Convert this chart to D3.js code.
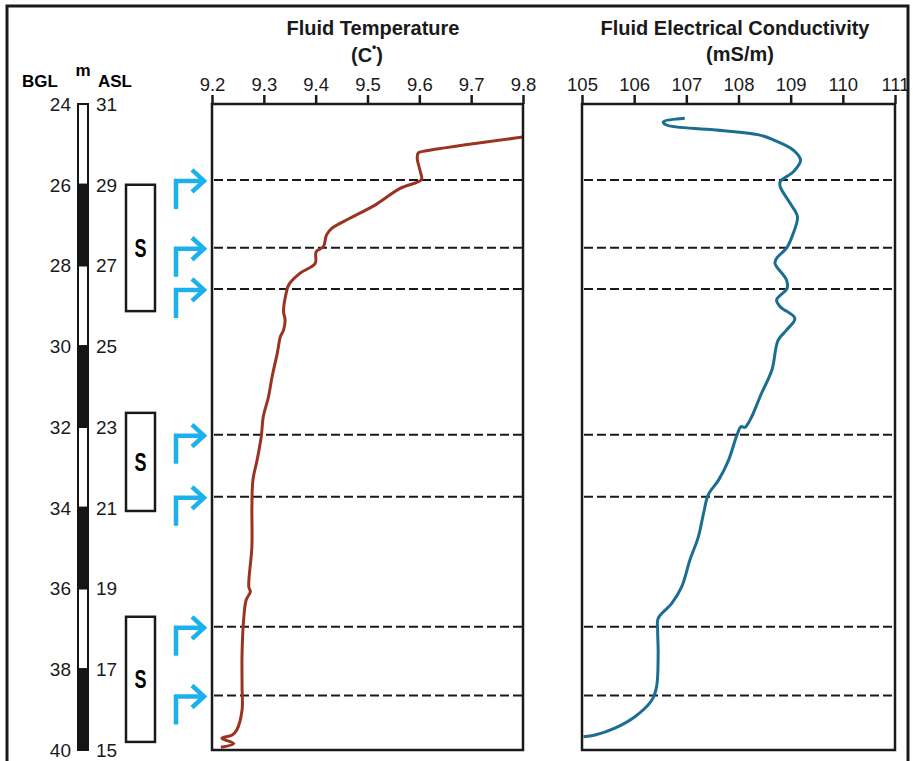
<!DOCTYPE html>
<html>
<head>
<meta charset="utf-8">
<script src="https://cdn.jsdelivr.net/npm/d3@7"></script>
<style>
  body { margin: 0; background: #fff; }
  svg { font-family: "Liberation Sans", Arial, sans-serif; }
</style>
</head>
<body>
<svg id="chart" width="913" height="761"></svg>
<script>
// depth ticks (m below ground level); ASL = 55 - BGL
var depthTicks = [24, 26, 28, 30, 32, 34, 36, 38, 40];
var aslTicks = [31, 29, 27, 25, 23, 21, 19, 17, 15];

// lithology column: [top, bottom, dark?]
var column = [[24, 26, 0], [26, 28, 1], [28, 30, 0], [30, 32, 1],
              [32, 34, 0], [34, 36, 1], [36, 38, 0], [38, 40, 1]];

// screened intervals
var screens = [[26.0, 29.13], [31.65, 34.08], [36.7, 39.8]];

// inflow zones (arrows + dashed lines)
var inflows = [25.88, 27.56, 28.58, 32.19, 33.73, 36.95, 38.65];

var tempTicks = [9.2, 9.3, 9.4, 9.5, 9.6, 9.7, 9.8];
var condTicks = [105, 106, 107, 108, 109, 110, 111];

// [depth, temperature C]
var tempProfile = [
  [24.82, 9.800], [25.16, 9.614], [25.21, 9.598], [25.35, 9.596], [25.68, 9.602],
  [25.87, 9.604], [26.09, 9.563], [26.53, 9.511], [26.83, 9.466], [27.08, 9.431],
  [27.24, 9.421], [27.53, 9.415], [27.66, 9.401], [27.95, 9.399], [28.19, 9.370],
  [28.48, 9.348], [28.69, 9.343], [29.14, 9.338], [29.35, 9.341], [29.60, 9.338],
  [29.76, 9.332], [30.17, 9.326], [30.75, 9.316], [31.25, 9.309], [31.74, 9.299],
  [32.24, 9.295], [32.82, 9.287], [33.31, 9.279], [33.97, 9.277], [34.96, 9.277],
  [35.96, 9.271], [36.08, 9.274], [36.28, 9.266], [36.78, 9.261], [37.61, 9.258],
  [38.43, 9.258], [39.01, 9.258], [39.50, 9.248], [39.63, 9.239], [39.71, 9.219],
  [39.84, 9.242], [39.93, 9.217]
];

// [depth, conductivity mS/m]
var condProfile = [
  [24.35, 106.97], [24.44, 106.56], [24.52, 106.62], [24.64, 107.52], [24.77, 108.41],
  [24.89, 108.67], [25.14, 109.05], [25.39, 109.19], [25.68, 109.05], [25.92, 108.80],
  [26.05, 108.80], [26.46, 108.99], [26.79, 109.13], [27.20, 109.05], [27.57, 108.92],
  [27.82, 108.73], [27.95, 108.70], [28.36, 108.92], [28.57, 108.93], [28.85, 108.73],
  [29.02, 108.80], [29.31, 109.08], [29.60, 108.92], [29.85, 108.76], [30.59, 108.64],
  [31.17, 108.44], [31.83, 108.22], [32.01, 108.12], [31.99, 108.05], [32.20, 107.97],
  [32.82, 107.81], [33.31, 107.62], [33.68, 107.42], [34.14, 107.33], [34.72, 107.23],
  [35.29, 107.07], [35.96, 106.91], [36.37, 106.72], [36.74, 106.46], [37.03, 106.45],
  [37.61, 106.46], [38.43, 106.43], [38.76, 106.34], [39.17, 106.02], [39.46, 105.63],
  [39.63, 105.25], [39.67, 105.03]
];

var svg = d3.select('#chart');

// outer frame
svg.append('rect')
    .attr('x', 7).attr('y', 6).attr('width', 901).attr('height', 760)
    .attr('fill', 'none').attr('stroke', '#1a1a1a').attr('stroke-width', 3);

var y = d3.scaleLinear().domain([24, 40]).range([104, 750]);

// depth column
svg.selectAll('rect.lith')
    .data(column)
  .enter().append('rect')
    .attr('class', 'lith')
    .attr('x', 78).attr('width', 10)
    .attr('y', function(d) { return y(d[0]); })
    .attr('height', function(d) { return y(d[1]) - y(d[0]); })
    .attr('fill', function(d) { return d[2] ? '#151515' : '#fff'; })
    .attr('stroke', '#151515').attr('stroke-width', 2);

svg.selectAll('text.bgl')
    .data(depthTicks)
  .enter().append('text')
    .attr('class', 'bgl')
    .attr('x', 71).attr('y', function(d) { return y(d); })
    .attr('dy', '0.36em').attr('text-anchor', 'end')
    .style('font-size', '19px').attr('fill', '#1a1a1a')
    .text(function(d) { return d; });

svg.selectAll('text.asl')
    .data(aslTicks)
  .enter().append('text')
    .attr('class', 'asl')
    .attr('x', 96).attr('y', function(d, i) { return y(depthTicks[i]); })
    .attr('dy', '0.36em')
    .style('font-size', '19px').attr('fill', '#1a1a1a')
    .text(function(d) { return d; });

svg.append('text').attr('x', 22).attr('y', 87)
    .style('font-size', '17px').style('font-weight', 'bold').text('BGL');
svg.append('text').attr('x', 83).attr('y', 76).attr('text-anchor', 'middle')
    .style('font-size', '17px').style('font-weight', 'bold').text('m');
svg.append('text').attr('x', 98).attr('y', 87)
    .style('font-size', '17px').style('font-weight', 'bold').text('ASL');

// screens
var scr = svg.selectAll('g.screen')
    .data(screens)
  .enter().append('g')
    .attr('class', 'screen');
scr.append('rect')
    .attr('x', 126).attr('width', 29)
    .attr('y', function(d) { return y(d[0]); })
    .attr('height', function(d) { return y(d[1]) - y(d[0]); })
    .attr('fill', '#fff').attr('stroke', '#1a1a1a').attr('stroke-width', 2.5);
scr.append('text')
    .attr('transform', function(d) {
      return 'translate(140.5,' + (y(d[0]) + y(d[1])) / 2 + ') scale(0.72,1)';
    })
    .attr('dy', '0.36em').attr('text-anchor', 'middle')
    .style('font-size', '25px').style('font-weight', 'bold')
    .text('S');

// inflow arrows
var arrows = svg.selectAll('g.arrow')
    .data(inflows)
  .enter().append('g')
    .attr('class', 'arrow')
    .attr('transform', function(d) { return 'translate(0,' + (y(d) + 1) + ')'; });
arrows.append('path')
    .attr('d', 'M176,28V0H203')
    .attr('fill', 'none').attr('stroke', '#1cb1ec').attr('stroke-width', 4.5);
arrows.append('path')
    .attr('d', 'M192,-11L204,0L192,11')
    .attr('fill', 'none').attr('stroke', '#1cb1ec').attr('stroke-width', 4.5);

function panel(x0, x1, domain, ticks, fmt, data, color) {
  var x = d3.scaleLinear().domain(domain).range([x0, x1]);
  var g = svg.append('g');

  g.selectAll('line.inflow')
      .data(inflows)
    .enter().append('line')
      .attr('x1', x0 + 2).attr('x2', x1)
      .attr('y1', function(d) { return y(d); })
      .attr('y2', function(d) { return y(d); })
      .attr('stroke', '#1a1a1a').attr('stroke-width', 2)
      .attr('stroke-dasharray', '9,4');

  g.append('path')
      .datum(data)
      .attr('fill', 'none').attr('stroke', color).attr('stroke-width', 3)
      .attr('stroke-linejoin', 'round')
      .attr('d', d3.line()
        .x(function(d) { return x(d[1]); })
        .y(function(d) { return y(d[0]); })
        .curve(d3.curveCatmullRom.alpha(0.5)));

  g.append('rect')
      .attr('x', x0).attr('y', y(24))
      .attr('width', x1 - x0).attr('height', y(40) - y(24))
      .attr('fill', 'none').attr('stroke', '#1a1a1a').attr('stroke-width', 2.5);

  var ax = g.append('g')
      .attr('transform', 'translate(0,' + y(24) + ')')
      .call(d3.axisTop(x).tickValues(ticks).tickFormat(fmt).tickSize(9).tickPadding(4));
  ax.select('.domain').remove();
  ax.selectAll('line').attr('stroke', '#1a1a1a').attr('stroke-width', 2.5);
  ax.selectAll('text')
      .style('font-size', '18.5px').style('font-family', '"Liberation Sans", Arial, sans-serif')
      .attr('fill', '#1a1a1a');
  return g;
}

panel(212, 523, [9.2, 9.8], tempTicks, d3.format('.1f'), tempProfile, '#9b3320');
panel(582, 895, [105, 111], condTicks, d3.format('d'), condProfile, '#1b6e91');

// titles
svg.append('text').attr('x', 373).attr('y', 35).attr('text-anchor', 'middle')
    .style('font-size', '20px').style('font-weight', 'bold').attr('fill', '#1a1a1a')
    .text('Fluid Temperature');
var unitT = svg.append('text').attr('x', 367).attr('y', 62).attr('text-anchor', 'middle')
    .style('font-size', '20px').style('font-weight', 'bold').attr('fill', '#1a1a1a');
unitT.append('tspan').text('(C');
unitT.append('tspan').attr('dy', -11).style('font-size', '12px').text('•');
unitT.append('tspan').attr('dy', 11).text(')');

svg.append('text').attr('x', 735).attr('y', 35).attr('text-anchor', 'middle')
    .style('font-size', '20px').style('font-weight', 'bold').attr('fill', '#1a1a1a')
    .text('Fluid Electrical Conductivity');
svg.append('text').attr('x', 740).attr('y', 61).attr('text-anchor', 'middle')
    .style('font-size', '20px').style('font-weight', 'bold').attr('fill', '#1a1a1a')
    .text('(mS/m)');
</script>
</body>
</html>
